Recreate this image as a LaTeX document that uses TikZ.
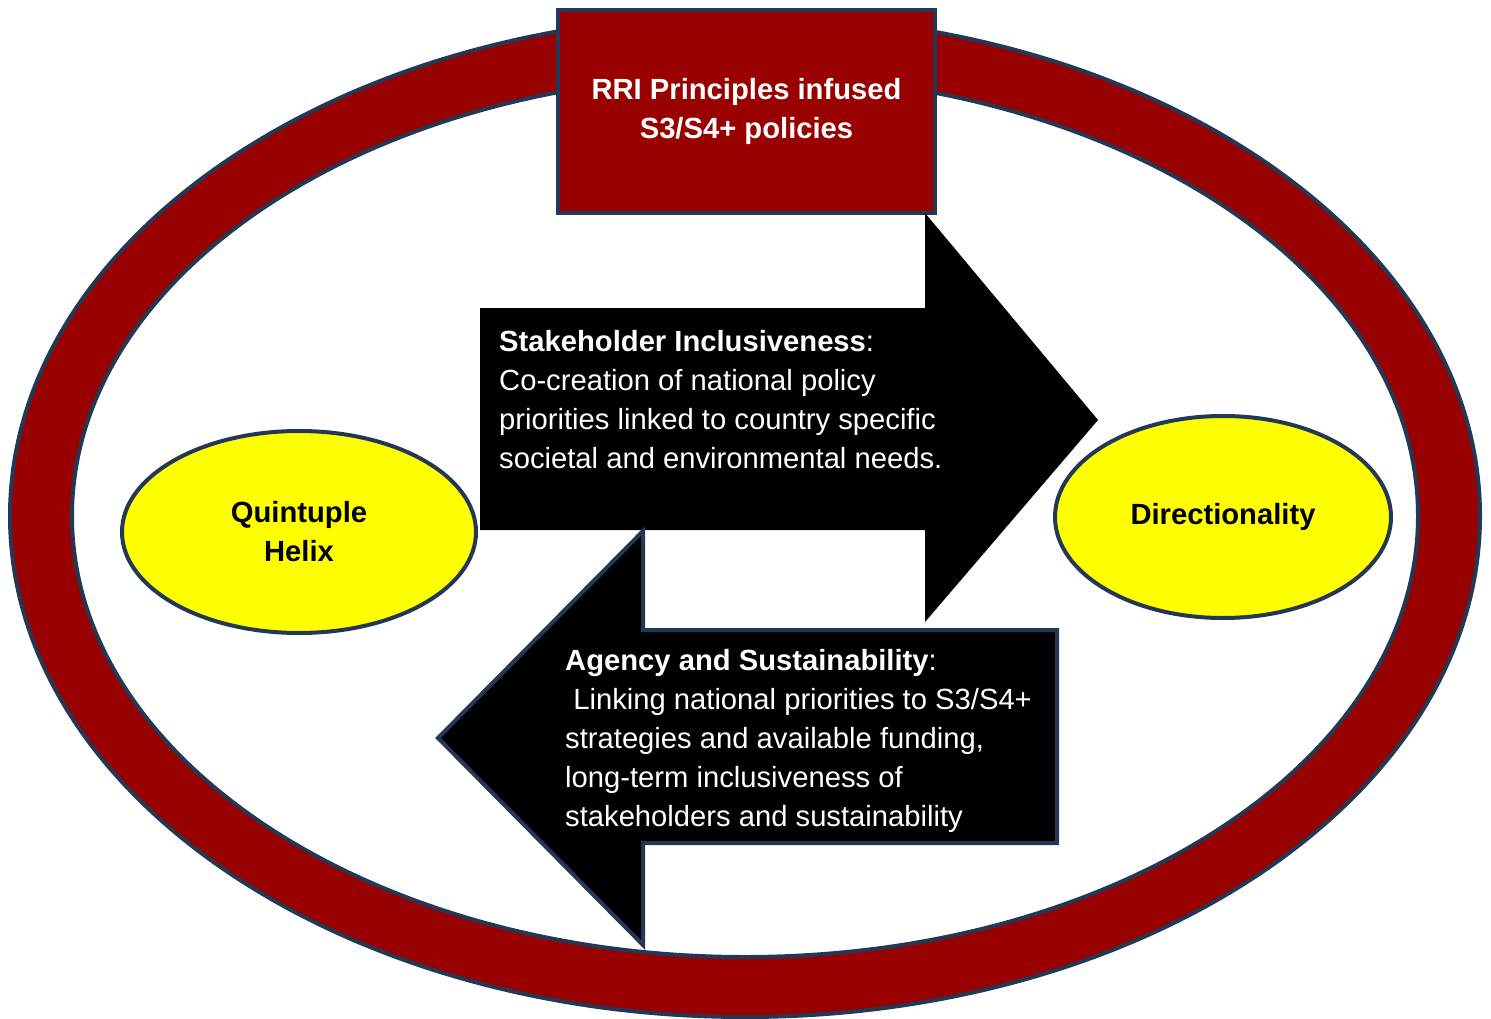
\documentclass[tikz,border=0pt]{standalone}
\usepackage{fontspec}
\setmainfont{Liberation Sans}
\usepackage{tikz}
\usetikzlibrary{shapes.geometric}
\definecolor{ringred}{RGB}{153,0,0}
\definecolor{edgeblue}{RGB}{35,56,84}
\definecolor{hubyellow}{RGB}{255,255,0}
\newcommand{\bodysize}{\fontsize{29.2}{39}\selectfont}

\tikzset{
  edge/.style={draw=edgeblue, line width=4pt},
  hub/.style={edge, ellipse, fill=hubyellow, font=\bodysize\bfseries, align=center, inner sep=0pt},
  blocktext/.style={text=white, align=left, anchor=north west, inner sep=0pt, font=\bodysize},
}

\begin{document}
\begin{tikzpicture}[x=1pt, y=-1pt]
    \useasboundingbox (0,0) rectangle (1491,1019);

    % outer ring
    \draw[edge, fill=ringred, even odd rule]
        (745,516) ellipse [x radius=735, y radius=501]
        (745,516) ellipse [x radius=673, y radius=441];

    % policy box on top of the ring
    \node[edge, fill=ringred, text=white, font=\bodysize\bfseries, align=center,
          minimum width=377, minimum height=203] (rri) at (746.5,111.5)
        {RRI Principles infused\\S3/S4+ policies};

    % the two hubs
    \node[hub, minimum width=354, minimum height=202] (helix) at (299,532) {Quintuple\\Helix};
    \node[hub, minimum width=336, minimum height=202] (direction) at (1223,517) {Directionality};

    % arrow to the right
    \fill[black] (480,308) -- (925,308) -- (925,213) -- (1098,420) -- (925,622)
        -- (925,530) -- (480,530) -- cycle;
    \node[blocktext] (inclusive) at (499,330)
        {\textbf{Stakeholder Inclusiveness}:\\
         Co-creation of national policy\\
         priorities linked to country specific\\
         societal and environmental needs.};

    % arrow back to the left
    \draw[edge, fill=black] (1057,630) -- (643,630) -- (643,531) -- (438,738)
        -- (643,945) -- (643,843) -- (1057,843) -- cycle;
    \node[blocktext] (agency) at (565,649)
        {\textbf{Agency and Sustainability}:\\
         \ Linking national priorities to S3/S4+\\
         strategies and available funding,\\
         long-term inclusiveness of\\
         stakeholders and sustainability};
\end{tikzpicture}
\end{document}
